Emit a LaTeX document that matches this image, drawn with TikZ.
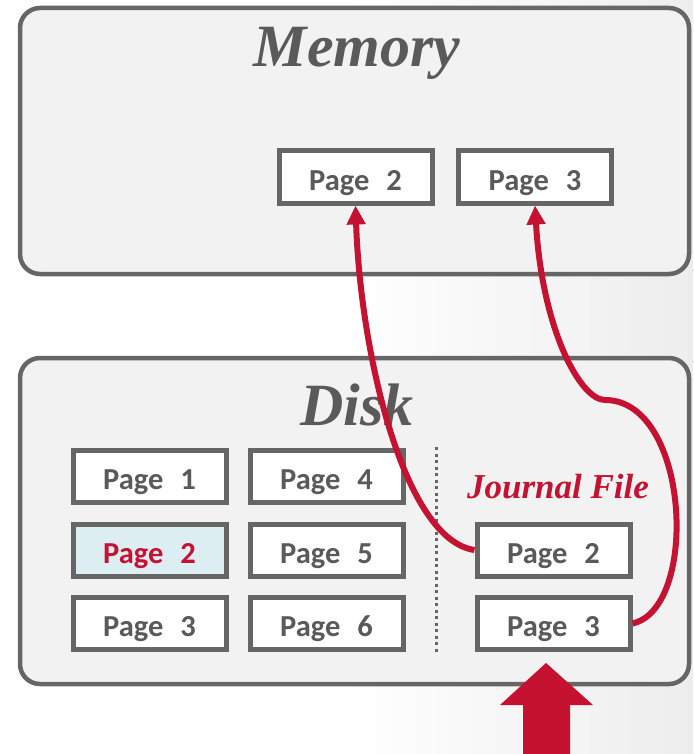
\documentclass[tikz,border=0pt]{standalone}
\usepackage{fontspec}
\usetikzlibrary{arrows.meta}
\newfontfamily\pagefont{Carlito}
\newfontfamily\headfont{Liberation Serif}
\definecolor{boxgray}{HTML}{666666}
\definecolor{txtgray}{HTML}{5A5A5A}
\definecolor{panelfill}{HTML}{F2F2F2}
\definecolor{jred}{HTML}{C41230}
\definecolor{hiblue}{HTML}{DDEEF3}
\newcommand{\pg}[1]{Page\hspace{17pt}#1}
\begin{document}
\begin{tikzpicture}[
	x=1pt, y=-1pt,
	panel/.style={ draw=boxgray, fill=panelfill, line width=4.5pt, rounded corners=20pt },
	page/.style={ draw=boxgray, fill=white, line width=5pt, inner sep=0pt, minimum width=153pt, minimum height=52pt, text height=26pt, text depth=0pt, text=txtgray, font=\pagefont\bfseries\fontsize{30.5}{36}\selectfont },
	pagehi/.style={ page, fill=hiblue, text=jred },
	head/.style={ text=txtgray, font=\headfont\bfseries\itshape\fontsize{60}{70}\selectfont },
	fetch/.style={ draw=jred, line width=6pt, -{Triangle[length=19pt,width=18pt]} }
]
\useasboundingbox (0,0) rectangle (693,754);
\shade[left color=white, right color=black!7, middle color=white] (0,0) rectangle (693,754);

\draw[panel] (20,8) rectangle (689,274);
\node at (357,53) (memtitle) [head] {Memory};
\node at (355.5,177) (mtwo) [page] {\pg{2}};
\node at (535,177) (mthree) [page] {\pg{3}};

\draw[panel] (20,358) rectangle (689,684);
\node at (357,405) (disktitle) [head] {Disk};

\node at (149.5,476.5) (done) [page] {\pg{1}};
\node at (149.5,550) (dtwo) [pagehi] {\pg{2}};
\node at (149.5,623.5) (dthree) [page] {\pg{3}};
\node at (326.5,476.5) (dfour) [page] {\pg{4}};
\node at (326.5,550) (dfive) [page] {\pg{5}};
\node at (326.5,623.5) (dsix) [page] {\pg{6}};

\draw[boxgray, line width=3pt, dash pattern=on 3pt off 3.5pt] (436,447) -- (436,655);

\node at (558,487) (jtitle) [head, text=jred, font=\headfont\bfseries\itshape\fontsize{35}{42}\selectfont] {Journal File};
\node at (553.5,550) (jtwo) [page] {\pg{2}};
\node at (553.5,623.5) (jthree) [page] {\pg{3}};

\coordinate (bend) at (605,400);
\draw[fetch] (jtwo.west) .. controls +(-70,-10) and +(5,150) .. (mtwo.south);
\draw[fetch] (jthree.east) .. controls +(67,-15) and +(85,0) .. (bend) .. controls +(-25,0) and +(7,123) .. (mthree.south);

\fill[jred] (523,754) -- (523,705) -- (500,705) -- (546,663) -- (593,705) -- (570,705) -- (570,754) -- cycle;

\end{tikzpicture}
\end{document}
